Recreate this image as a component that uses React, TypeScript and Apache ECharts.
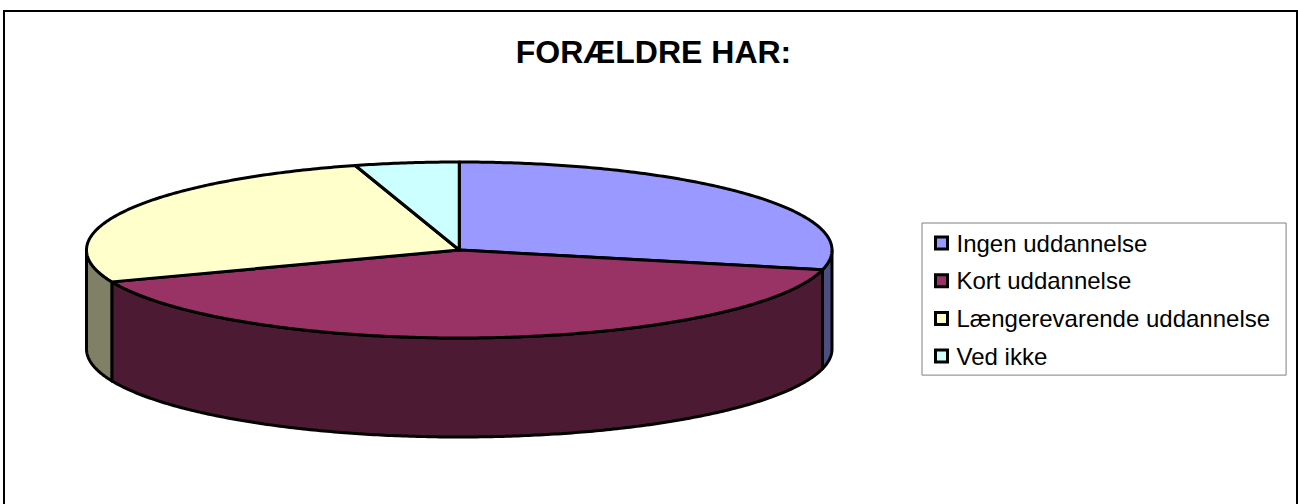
import React, { useEffect, useRef } from "react";
import * as echarts from "echarts";

const categories = ["Ingen uddannelse", "Kort uddannelse", "Længerevarende uddannelse", "Ved ikke"];
const values = [28.6, 40.5, 26.4, 4.5];
const topColors = ["#9999FF", "#993366", "#FFFFCC", "#CCFFFF"];
const sideColors = ["#4D4D80", "#4D1A33", "#808066", "#668080"];
const titleText = "FORÆLDRE HAR:";

const CX = 459.25, CY = 250, RX = 372.75, RY = 88, DEPTH = 99;
const total = values.reduce((a, b) => a + b, 0);

function pt(a: number, dy = 0): number[] {
  return [CX + RX * Math.sin(a), CY - RY * Math.cos(a) + dy];
}
function arcPts(a0: number, a1: number, dy = 0): number[][] {
  const n = Math.max(2, Math.ceil((a1 - a0) / 0.01));
  const out: number[][] = [];
  for (let i = 0; i <= n; i++) out.push(pt(a0 + ((a1 - a0) * i) / n, dy));
  return out;
}

function makeRender(idx: number) {
  return (_params: any, api: any) => {
    const before = values.slice(0, idx).reduce((a, b) => a + b, 0);
    const a0 = (before / total) * Math.PI * 2;
    const a1 = ((before + Number(api.value(0))) / total) * Math.PI * 2;
    const lineStyle = { stroke: "#000", lineWidth: 3, lineJoin: "round" };
    const children: any[] = [];
    const s0 = Math.max(a0, Math.PI / 2);
    const s1 = Math.min(a1, Math.PI * 1.5);
    if (s1 > s0) {
      const pts = [...arcPts(s0, s1), ...arcPts(s0, s1, DEPTH).reverse()];
      children.push({
        type: "polygon",
        shape: { points: pts },
        style: { fill: sideColors[idx], ...lineStyle },
      });
    }
    children.push({
      type: "polygon",
      shape: { points: [[CX, CY], ...arcPts(a0, a1)] },
      style: { fill: topColors[idx], ...lineStyle },
    });
    return { type: "group", children };
  };
}

export default function App() {
  const ref = useRef<HTMLDivElement>(null);
  useEffect(() => {
    const chart = echarts.init(ref.current!, undefined, { renderer: "svg" });
    chart.setOption({
      animation: false,
      backgroundColor: "#fff",
      title: {
        text: titleText,
        left: 648.5,
        top: 31,
        textAlign: "center",
        textStyle: { fontFamily: "Liberation Sans", fontWeight: "bold", fontSize: 32, color: "#000" },
      },
      legend: {
        orient: "vertical",
        left: 922,
        top: 223,
        padding: [8, 16, 7, 12],
        itemGap: 13.7,
        itemWidth: 12,
        itemHeight: 12,
        icon: "rect",
        borderColor: "#808080",
        borderWidth: 1,
        data: categories,
        itemStyle: { borderColor: "#000", borderWidth: 3 },
        textStyle: { fontFamily: "Liberation Sans", fontSize: 24, color: "#000", padding: [0, 0, 0, 4], lineHeight: 24 },
      },
      graphic: [
        {
          type: "polyline",
          shape: { points: [[4, 504], [4, 11], [1297, 11], [1297, 504]] },
          style: { fill: "none", stroke: "#000", lineWidth: 2 },
          silent: true,
        },
      ],
      series: categories.map((name, i) => ({
        type: "custom",
        name,
        coordinateSystem: "none",
        data: [[values[i]]],
        itemStyle: { color: topColors[i] },
        renderItem: makeRender(i),
        silent: true,
      })),
    });
    return () => chart.dispose();
  }, []);
  return <div ref={ref} style={{ position: "fixed", left: 0, top: 0, width: 1298, height: 504 }} />;
}
